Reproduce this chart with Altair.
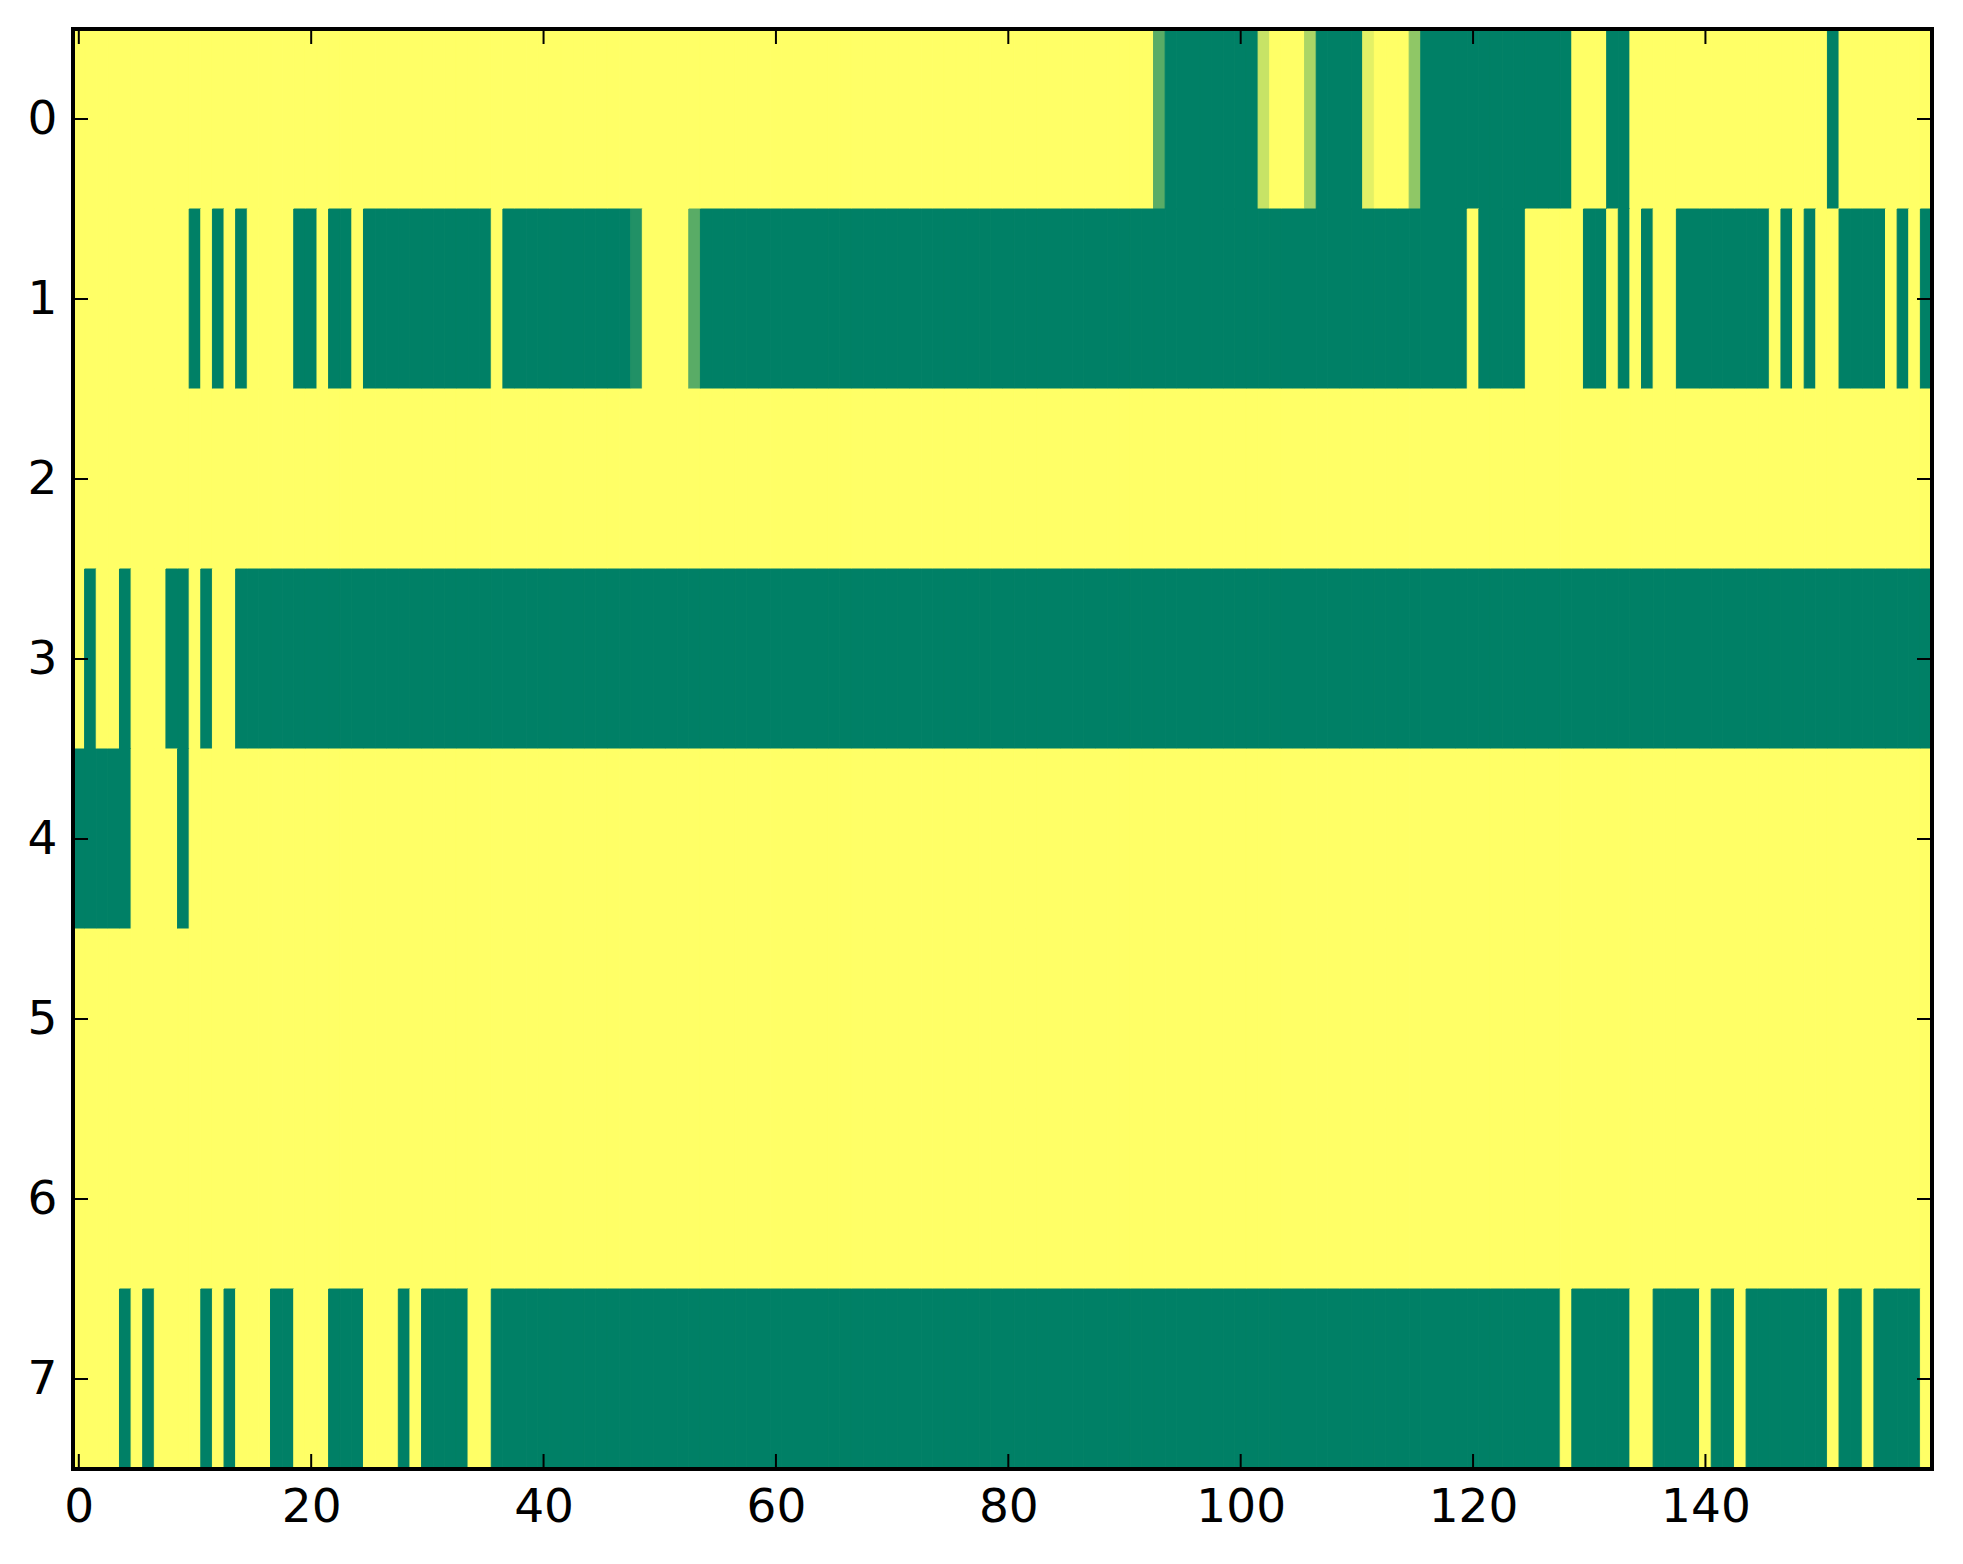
import altair as alt
import pandas as pd

# Grid size
n_rows = 8
n_cols = 160

# Read values: cells not listed are 1.0 (yellow). Runs are (first_col, last_col, value).
row0_runs = [(93, 93, 0.35), (94, 101, 0.0), (102, 102, 0.78), (106, 106, 0.67),
             (107, 110, 0.0), (111, 111, 0.89), (115, 115, 0.56), (116, 128, 0.0),
             (132, 133, 0.0), (151, 151, 0.0)]
row1_runs = [(10, 10, 0.0), (12, 12, 0.0), (14, 14, 0.0), (19, 20, 0.0), (22, 23, 0.0),
             (25, 35, 0.0), (37, 47, 0.0), (48, 48, 0.13), (53, 53, 0.35), (54, 119, 0.0),
             (121, 124, 0.0), (130, 131, 0.0), (133, 133, 0.0), (135, 135, 0.0),
             (138, 145, 0.0), (147, 147, 0.0), (149, 149, 0.0), (152, 155, 0.0),
             (157, 157, 0.0), (159, 159, 0.0)]
row2_runs = []
row3_runs = [(1, 1, 0.0), (4, 4, 0.0), (8, 9, 0.0), (11, 11, 0.0), (14, 159, 0.0)]
row4_runs = [(0, 4, 0.0), (9, 9, 0.0)]
row5_runs = []
row6_runs = []
row7_runs = [(4, 4, 0.0), (6, 6, 0.0), (11, 11, 0.0), (13, 13, 0.0), (17, 18, 0.0),
             (22, 24, 0.0), (28, 28, 0.0), (30, 33, 0.0), (36, 127, 0.0),
             (129, 133, 0.0), (136, 139, 0.0), (141, 142, 0.0), (144, 150, 0.0),
             (152, 153, 0.0), (155, 158, 0.0)]

all_runs = [row0_runs, row1_runs, row2_runs, row3_runs,
            row4_runs, row5_runs, row6_runs, row7_runs]

x_tick_values = [0, 20, 40, 60, 80, 100, 120, 140]
y_tick_values = [0, 1, 2, 3, 4, 5, 6, 7]

records = []
for r, runs in enumerate(all_runs):
    vals = [1.0] * n_cols
    for a, b, v in runs:
        for c in range(a, b + 1):
            vals[c] = v
    for c, v in enumerate(vals):
        records.append({"col": c, "row": r, "x0": c - 0.5, "x1": c + 0.5,
                        "y0": r - 0.5, "y1": r + 0.5, "v": v})
df = pd.DataFrame(records)

W, H = 1859, 1440
TL = 15
FONT = "DejaVu Sans"
FS = 47

xscale = alt.Scale(domain=[-0.5, 159.5], nice=False, zero=False)
yscale = alt.Scale(domain=[-0.5, 7.5], nice=False, zero=False, reverse=True)
cscale = alt.Scale(domain=[0, 1], range=["#008066", "#ffff66"], interpolate="rgb")

xaxis = alt.Axis(values=x_tick_values, title=None, ticks=False, tickSize=0,
                 domain=False, grid=False, labelFont=FONT, labelFontSize=FS,
                 labelColor="black", labelPadding=15, format="d",
                 labelFlush=False, labelOverlap=False)
yaxis = alt.Axis(values=y_tick_values, title=None, ticks=False, tickSize=0,
                 domain=False, grid=False, labelFont=FONT, labelFontSize=FS,
                 labelColor="black", labelPadding=16, format="d",
                 labelFlush=False, labelOverlap=False)

heat = alt.Chart(df).mark_rect(strokeWidth=1).encode(
    x=alt.X("x0:Q", scale=xscale, axis=xaxis),
    x2="x1:Q",
    y=alt.Y("y0:Q", scale=yscale, axis=yaxis),
    y2="y1:Q",
    color=alt.Color("v:Q", scale=cscale, legend=None),
    stroke=alt.Stroke("v:Q", scale=cscale, legend=None),
)

xt = pd.DataFrame({"t": x_tick_values})
yt = pd.DataFrame({"t": y_tick_values})

tick_style = dict(color="black", strokeWidth=2)

bottom_ticks = alt.Chart(xt).mark_rule(**tick_style).encode(
    x=alt.X("t:Q", scale=xscale, axis=xaxis),
    y=alt.value(H), y2=alt.value(H - TL))
top_ticks = alt.Chart(xt).mark_rule(**tick_style).encode(
    x=alt.X("t:Q", scale=xscale, axis=xaxis),
    y=alt.value(0), y2=alt.value(TL))
left_ticks = alt.Chart(yt).mark_rule(**tick_style).encode(
    y=alt.Y("t:Q", scale=yscale, axis=yaxis),
    x=alt.value(0), x2=alt.value(TL))
right_ticks = alt.Chart(yt).mark_rule(**tick_style).encode(
    y=alt.Y("t:Q", scale=yscale, axis=yaxis),
    x=alt.value(W), x2=alt.value(W - TL))

frame_df = pd.DataFrame({"k": [0]})
frame = alt.Chart(frame_df).mark_rect(fill=None, stroke="black", strokeWidth=4).encode(
    x=alt.value(0), x2=alt.value(W), y=alt.value(0), y2=alt.value(H))

chart = alt.layer(heat, bottom_ticks, top_ticks, left_ticks, right_ticks, frame).properties(
    width=W, height=H,
    autosize=alt.AutoSizeParams(type="none"),
    padding={"left": 65, "top": 21, "right": 23, "bottom": 87},
).configure_view(stroke=None).configure(background="white")

chart.save("out.html", embed_options={"renderer": "svg", "actions": False})
